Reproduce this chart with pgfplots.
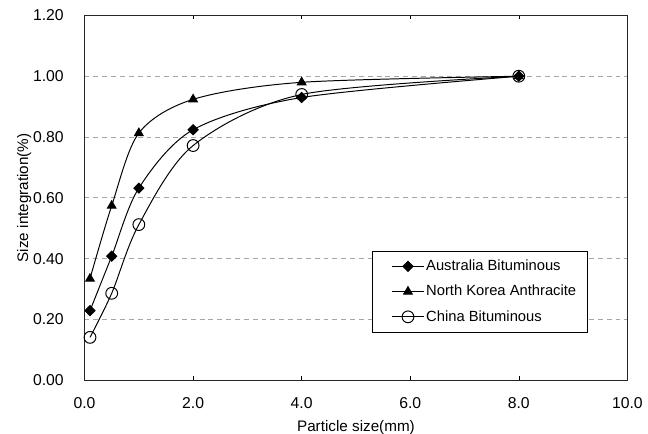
\documentclass[border=0pt]{standalone}
\usepackage{pgfplots}
\pgfplotsset{compat=1.18}
\usepackage{fontspec}
\setmainfont{Liberation Sans}
\begin{document}
\fontsize{15pt}{18pt}\selectfont
\begin{tikzpicture}
\useasboundingbox (-86pt,-54.3pt) rectangle (573pt,386.7pt);
\begin{axis}[
  at={(0,0)}, anchor=south west,
  scale only axis, width=552pt, height=371pt,
  xmin=0, xmax=10, ymin=0, ymax=1.2,
  xtick={0,2,4,6,8,10},
  ytick={0,0.2,0.4,0.6,0.8,1.0,1.2},
  /pgf/number format/assume math mode=true,
  x tick label style={/pgf/number format/fixed,/pgf/number format/fixed zerofill,/pgf/number format/precision=1, yshift=-12pt},
  y tick label style={/pgf/number format/fixed,/pgf/number format/fixed zerofill,/pgf/number format/precision=2, xshift=-16pt},
  tick label style={font=\fontsize{16pt}{19pt}\selectfont},
  ymajorgrids, grid style={dash pattern=on 5pt off 4pt, gray!70, line width=0.7pt},
  tick align=inside, major tick length=4pt,
  ytick style={draw=none},
  xtick style={black, line width=0.6pt},
  axis line style={line width=1.1pt, black!85},
  xlabel={Particle size(mm)}, ylabel={Size integration(\%)},
  label style={font=\fontsize{15.5pt}{18pt}\selectfont},
  xlabel style={at={(rel axis cs:0.5,0)}, anchor=base, yshift=-52pt},
  ylabel style={at={(axis description cs:-0.104,0.5)}, anchor=base},
  legend style={at={(rel axis cs:0.529,0.355)}, anchor=north west, draw=black, line width=0.8pt,
    font=\fontsize{15pt}{18pt}\selectfont, row sep=8.5pt, inner xsep=9pt, inner ysep=7pt},
  legend cell align=left,
  legend image code/.code={\path (-11pt,0pt); \draw[mark repeat=2,mark phase=2] plot coordinates {(0pt,0pt) (16pt,0pt) (32pt,0pt)};},
  every axis plot/.append style={black, line width=1pt, smooth, tension=0.5},
]
\addplot[mark=square*, mark size=3.6pt, mark options={rotate=45, solid, fill=black}] coordinates {
  (0.1,0.229) (0.5,0.408) (1,0.632) (2,0.824) (4,0.93) (8,1.0)};
\addlegendentry{Australia Bituminous}
\addplot[mark=triangle*, mark size=5pt, mark options={solid, fill=black}] coordinates {
  (0.1,0.334) (0.5,0.574) (1,0.813) (2,0.924) (4,0.98) (8,1.0)};
\addlegendentry{North Korea Anthracite}
\addplot[mark=o, mark size=6pt, mark options={solid, line width=1pt}] coordinates {
  (0.1,0.141) (0.5,0.286) (1,0.512) (2,0.772) (4,0.94) (8,1.0)};
\addlegendentry{China Bituminous}
\end{axis}
\end{tikzpicture}
\end{document}
